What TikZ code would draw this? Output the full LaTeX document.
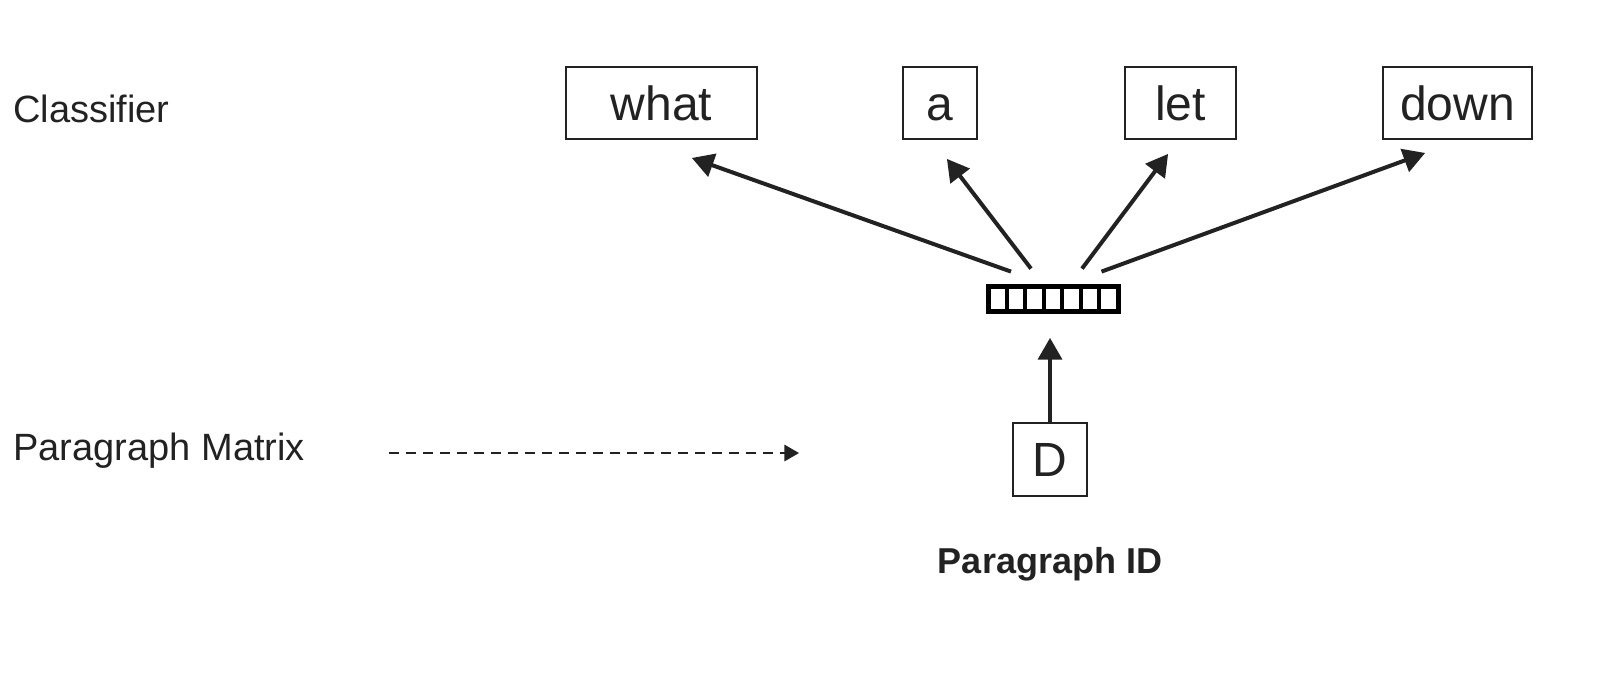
\documentclass[tikz,border=0pt]{standalone}
\usepackage{fontspec}
\setmainfont{Liberation Sans}
\usepackage{tikz}
\usetikzlibrary{calc}
\usetikzlibrary{arrows}
\usetikzlibrary{positioning}
\definecolor{ink}{HTML}{222222}

\begin{document}
\begin{tikzpicture}[x=0.5pt,y=-0.5pt]
  \tikzset{myedge/.style={->, draw=ink, line width=2pt, >=triangle 60}};
  \tikzset{mydash/.style={->, draw=ink, line width=1pt, dash pattern=on 5pt off 3.5pt, >=triangle 60}};
  \tikzset{wordbox/.style={draw=ink, line width=1pt, inner sep=0pt, minimum height=36pt, text height=20pt, text depth=3pt, font=\fontsize{24}{28}\selectfont, text=ink}};
  \tikzset{sidelabel/.style={anchor=base west, inner sep=0pt, font=\fontsize{19}{23}\selectfont, text=ink}};
  \useasboundingbox (0,0) rectangle (1604,697);

  \node[sidelabel] (cls) at (13,122) {Classifier};
  \node[sidelabel] (pm) at (13,460) {Paragraph Matrix};

  \node[fill=black, minimum width=67.5pt, minimum height=15pt, inner sep=0pt] (vec) at (1053.5,299) {};
  \foreach \i in {0,...,6}
    \fill[white] ($(vec.north west)+(5+\i*18.43,5)$) rectangle ++(14.4,20);

  \node[wordbox, minimum width=37pt] (a) at (940,103) {a};
  \node[wordbox, minimum width=95.5pt, left=72pt of a] (what) {what};
  \node[wordbox, minimum width=55.5pt, right=73pt of a] (let) {let};
  \node[wordbox, minimum width=74.5pt, right=72.5pt of let] (down) {down};

  \node[wordbox, minimum width=37pt, minimum height=36.5pt] (D) at (1050,459.5) {D};
  \node[anchor=base, inner sep=0pt, font=\bfseries\fontsize{18}{22}\selectfont, text=ink] (pid) at (1050,573) {Paragraph ID};

  \draw [myedge] ($(vec.north)+(-42.5,-12)$) -- ($(what.south)+(30.5,18)$);
  \draw [myedge] ($(vec.north)+(-22.5,-15)$) -- ($(a.south)+(7,19)$);
  \draw [myedge] ($(vec.north)+(28.5,-15)$) -- ($(let.south)+(-12.5,14)$);
  \draw [myedge] ($(vec.north)+(48,-12)$) -- ($(down.south)+(-32.5,13)$);

  \draw [myedge] (D.north) -- ++(0,-84);
  \draw [mydash] ($(pm.base west)+(376,-7)$) -- ++(410,0);
\end{tikzpicture}
\end{document}
